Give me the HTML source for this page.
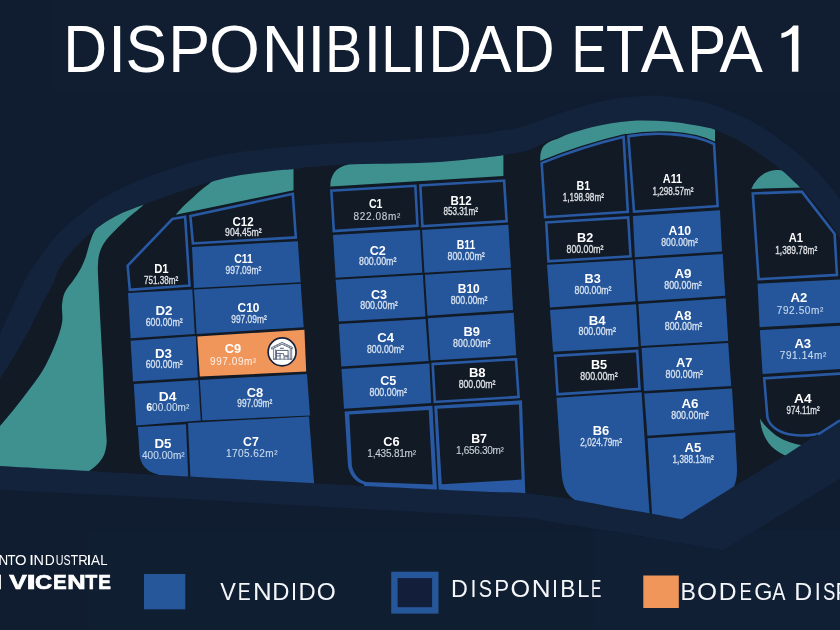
<!DOCTYPE html>
<html><head><meta charset="utf-8"><title>Disponibilidad Etapa 1</title>
<style>
html,body{margin:0;padding:0;background:#101d30;}
body{width:840px;height:630px;overflow:hidden;position:relative;font-family:"Liberation Sans",sans-serif;}
</style></head><body>
<svg width="840" height="630" viewBox="0 0 840 630" style="position:absolute;left:0;top:0;display:block;will-change:transform;filter:blur(0.5px)">
<defs>
<clipPath id="cin"><path d="M-8.0,393.0 C-6.7,390.7 -2.6,383.4 0.0,379.0 C2.6,374.6 4.3,372.5 7.8,366.7 C11.3,360.9 16.8,351.8 21.0,344.4 C25.2,336.9 29.4,329.4 33.3,322.0 C37.2,314.6 41.4,305.8 44.4,300.0 C47.4,294.2 48.6,293.0 51.5,287.0 C54.4,281.0 57.2,271.3 62.0,264.0 C66.8,256.7 73.7,249.3 80.0,243.0 C86.3,236.7 93.3,230.8 100.0,226.0 C106.7,221.2 112.8,217.5 120.0,214.0 C127.2,210.5 132.5,208.9 143.0,205.0 C153.5,201.1 169.2,195.2 183.0,190.7 C196.8,186.2 211.4,181.1 225.7,177.9 C240.0,174.7 257.6,172.8 268.6,171.4 C279.7,170.0 284.9,170.0 292.0,169.3 C299.1,168.6 301.0,167.8 311.4,167.0 C321.8,166.2 340.0,164.9 354.3,164.3 C368.6,163.7 382.7,163.8 397.0,163.4 C411.3,163.0 425.7,162.9 440.0,162.0 C454.3,161.1 472.5,158.9 483.0,157.8 C493.5,156.7 495.5,156.6 503.0,155.3 C510.5,154.0 521.3,152.1 528.0,150.2 C534.7,148.2 538.5,145.5 543.0,143.6 C547.5,141.7 546.7,141.4 555.0,138.6 C563.3,135.8 580.2,129.9 592.7,127.0 C605.2,124.1 617.5,121.9 630.0,121.0 C642.5,120.1 655.4,120.6 668.0,121.6 C680.6,122.6 697.8,125.8 705.6,127.2 C713.4,128.6 710.4,128.0 715.0,129.8 C719.6,131.6 729.1,136.1 733.3,138.0 C737.5,139.9 735.5,138.6 740.0,141.3 C744.5,144.1 753.7,149.7 760.6,154.5 C767.5,159.3 776.1,165.9 781.3,170.0 C786.5,174.1 788.2,176.0 791.6,179.2 C795.0,182.4 796.8,183.8 801.9,189.4 C807.0,195.0 816.6,205.1 822.5,212.6 C828.4,220.1 834.1,229.8 837.0,234.2 C839.9,238.6 837.8,235.5 840.0,238.8 C842.2,242.1 848.3,251.5 850.0,254.0 L860,640 L-8,640 Z"/></clipPath>
</defs>
<rect x="0" y="0" width="840" height="630" fill="#101d30"/>
<rect x="52.4" y="0" width="788" height="90.5" fill="#111e32"/>
<path d="M-12.0,360.0 C-10.0,355.7 -4.0,342.7 0.0,334.0 C4.0,325.3 7.8,317.0 12.0,308.0 C16.2,299.0 20.0,289.0 25.0,280.0 C30.0,271.0 35.8,262.3 42.0,254.0 C48.2,245.7 52.3,239.0 62.0,230.0 C71.7,221.0 87.0,208.3 100.0,200.0 C113.0,191.7 126.2,185.8 140.0,180.0 C153.8,174.2 168.7,169.3 183.0,165.0 C197.3,160.7 211.7,157.0 226.0,154.3 C240.3,151.6 254.4,150.4 268.6,148.8 C282.8,147.2 297.1,145.9 311.4,144.9 C325.7,143.9 340.0,143.3 354.3,142.6 C368.6,141.8 382.7,141.3 397.0,140.4 C411.3,139.5 426.2,138.3 440.0,137.2 C453.8,136.1 470.0,135.1 480.0,134.0 C490.0,132.9 492.8,132.0 500.0,130.7 C507.2,129.4 512.0,129.6 523.0,126.4 C534.0,123.2 551.4,115.8 565.7,111.4 C580.0,107.0 594.3,102.6 608.6,100.0 C622.9,97.4 637.1,95.8 651.4,95.8 C665.7,95.8 683.4,98.6 694.3,100.3 C705.2,102.0 710.2,104.1 716.7,106.2 C723.2,108.3 727.8,110.4 733.3,112.7 C738.8,115.0 744.4,117.3 750.0,120.2 C755.6,123.1 761.2,126.6 766.7,130.2 C772.2,133.8 777.3,137.6 783.0,141.9 C788.7,146.2 795.3,151.3 801.0,156.2 C806.7,161.1 811.7,165.9 817.0,171.5 C822.3,177.1 829.2,185.4 833.0,190.0 C836.8,194.6 837.2,195.3 840.0,199.0 C842.8,202.7 848.3,209.8 850.0,212.0 L860,640 L-12,640 Z" fill="#14233c"/>
<path d="M-8.0,393.0 C-6.7,390.7 -2.6,383.4 0.0,379.0 C2.6,374.6 4.3,372.5 7.8,366.7 C11.3,360.9 16.8,351.8 21.0,344.4 C25.2,336.9 29.4,329.4 33.3,322.0 C37.2,314.6 41.4,305.8 44.4,300.0 C47.4,294.2 48.6,293.0 51.5,287.0 C54.4,281.0 57.2,271.3 62.0,264.0 C66.8,256.7 73.7,249.3 80.0,243.0 C86.3,236.7 93.3,230.8 100.0,226.0 C106.7,221.2 112.8,217.5 120.0,214.0 C127.2,210.5 132.5,208.9 143.0,205.0 C153.5,201.1 169.2,195.2 183.0,190.7 C196.8,186.2 211.4,181.1 225.7,177.9 C240.0,174.7 257.6,172.8 268.6,171.4 C279.7,170.0 284.9,170.0 292.0,169.3 C299.1,168.6 301.0,167.8 311.4,167.0 C321.8,166.2 340.0,164.9 354.3,164.3 C368.6,163.7 382.7,163.8 397.0,163.4 C411.3,163.0 425.7,162.9 440.0,162.0 C454.3,161.1 472.5,158.9 483.0,157.8 C493.5,156.7 495.5,156.6 503.0,155.3 C510.5,154.0 521.3,152.1 528.0,150.2 C534.7,148.2 538.5,145.5 543.0,143.6 C547.5,141.7 546.7,141.4 555.0,138.6 C563.3,135.8 580.2,129.9 592.7,127.0 C605.2,124.1 617.5,121.9 630.0,121.0 C642.5,120.1 655.4,120.6 668.0,121.6 C680.6,122.6 697.8,125.8 705.6,127.2 C713.4,128.6 710.4,128.0 715.0,129.8 C719.6,131.6 729.1,136.1 733.3,138.0 C737.5,139.9 735.5,138.6 740.0,141.3 C744.5,144.1 753.7,149.7 760.6,154.5 C767.5,159.3 776.1,165.9 781.3,170.0 C786.5,174.1 788.2,176.0 791.6,179.2 C795.0,182.4 796.8,183.8 801.9,189.4 C807.0,195.0 816.6,205.1 822.5,212.6 C828.4,220.1 834.1,229.8 837.0,234.2 C839.9,238.6 837.8,235.5 840.0,238.8 C842.2,242.1 848.3,251.5 850.0,254.0 L860,640 L-8,640 Z" fill="#111a25"/>
<g clip-path="url(#cin)" fill="#3f9190">
<path d="M150.0,195.0 C142.7,199.0 115.1,213.2 106.0,219.0 C96.9,224.8 98.2,225.7 95.5,229.5 C92.8,233.3 91.6,237.4 90.0,242.0 C88.4,246.6 87.3,252.5 85.7,257.0 C84.1,261.5 82.5,265.2 80.5,269.0 C78.5,272.8 76.1,276.2 73.5,280.0 C70.9,283.8 66.9,287.8 65.0,292.0 C63.1,296.2 62.5,299.8 62.0,305.0 C61.5,310.2 63.2,316.3 62.0,323.0 C60.8,329.7 58.2,337.2 55.0,345.0 C51.8,352.8 47.2,362.8 43.0,370.0 C38.8,377.2 34.7,382.2 30.0,388.5 C25.3,394.8 20.0,401.8 15.0,408.0 C10.0,414.2 3.8,421.7 0.0,426.0 C-3.8,430.3 -6.7,432.7 -8.0,434.0 L-8,480 L80,480 L80,471.4 L88.5,471.2 C95,467.5 100.8,461.5 103.6,455.7 C105.4,452 106.5,447 106.8,440 C106.6,437.5 106.5,438.3 105.8,425.0 C105.1,411.7 103.7,383.3 102.5,360.0 C101.3,336.7 99.2,301.0 98.5,285.0 C97.8,269.0 97.7,269.8 98.0,264.0 C98.3,258.2 98.8,254.8 100.4,250.5 C102.1,246.2 103.7,242.9 107.9,237.9 C112.1,232.9 119.6,225.8 125.4,220.4 C131.2,215.0 138.9,209.5 143.0,205.3 C147.1,201.1 148.8,196.7 150.0,195.0 Z"/>
<path d="M175.7,214.8 C177.1,213.2 181.4,208.1 184.3,205.2 C187.2,202.3 190.1,200.0 192.9,197.4 C195.8,194.8 198.4,192.3 201.4,189.8 C204.4,187.3 207.2,185.6 211.0,182.3 C214.8,179.0 221.8,172.1 224.0,170.0 L293.5,160 L293.5,190.2 Z"/>
<path d="M330.3,186.6 C330.4,185.4 330.3,181.8 331.1,179.3 C331.9,176.8 333.2,173.8 334.9,171.7 C336.6,169.6 339.0,168.1 341.2,166.9 C343.4,165.7 345.4,165.5 347.9,164.5 C350.4,163.5 354.6,161.6 356.0,161.0 L503.4,145 L503.4,176.1 Z"/>
<path d="M540.2,160.2 C540.3,159.0 540.1,155.2 540.7,152.9 C541.3,150.6 542.0,148.1 543.6,146.2 C545.2,144.3 547.5,142.8 550.2,141.4 C552.9,140.0 555.7,139.7 559.8,137.8 C563.9,135.9 572.5,131.3 575.0,130.0 L600,110 L715,110 L715,150 L540,165 Z"/>
<path d="M751.4,188.9 C751.9,188.0 753.0,185.2 754.3,183.3 C755.6,181.4 757.0,179.2 759.0,177.4 C761.0,175.6 763.6,173.8 766.2,172.6 C768.8,171.4 771.5,170.5 774.5,170.2 C777.5,169.9 781.2,170.1 784.0,171.0 C786.8,171.9 789.0,173.8 791.2,175.7 C793.4,177.5 795.4,180.1 797.1,182.1 C798.8,184.1 800.5,186.7 801.2,187.6 Z"/>
<path d="M760,418.5 C761,430 765,440 772,447 C780,454 790,458 800,460 L815,445 C800,447 786,442 776,435.5 C768,429 763,424 760,418.5 Z"/>
</g>
<g fill="#25569b">
<path d="M128.0,293.0 L192.3,289.6 L194.8,334.0 L130.6,338.2 Z"/>
<path d="M130.6,340.7 L195.8,336.0 L197.8,377.4 L133.0,381.6 Z"/>
<path d="M133.8,384.0 L198.3,380.0 L200.8,420.5 L136.3,425.5 Z"/>
<path d="M192.0,247.0 L297.8,241.2 L300.7,282.2 L193.9,288.0 Z"/>
<path d="M194.0,289.6 L300.7,283.8 L303.7,327.2 L196.6,334.0 Z"/>
<path d="M199.8,380.0 L307.0,374.0 L310.0,415.5 L202.3,420.5 Z"/>
<path d="M188.0,423.0 L309.0,416.5 L315.0,495.0 L191.2,495.0 Z"/>
<path d="M333.0,235.1 L420.0,230.1 L422.4,272.7 L335.6,277.7 Z"/>
<path d="M422.0,230.0 L508.3,224.7 L510.9,267.7 L424.4,272.7 Z"/>
<path d="M335.6,279.7 L422.9,274.7 L425.4,316.4 L338.8,321.5 Z"/>
<path d="M424.9,274.8 L510.9,269.4 L513.0,310.0 L427.4,315.7 Z"/>
<path d="M338.8,324.0 L425.6,319.0 L428.6,360.9 L341.3,366.6 Z"/>
<path d="M427.8,318.2 L513.7,312.7 L516.2,355.3 L430.6,360.4 Z"/>
<path d="M341.5,369.0 L429.4,363.4 L431.2,403.1 L344.0,408.8 Z"/>
<path d="M632.9,216.0 L720.0,210.3 L722.0,251.4 L634.9,257.2 Z"/>
<path d="M547.0,264.7 L632.9,259.7 L635.5,301.6 L550.0,307.4 Z"/>
<path d="M635.1,259.6 L722.7,254.0 L725.2,295.8 L637.9,301.6 Z"/>
<path d="M550.0,309.9 L636.1,304.2 L638.6,346.8 L553.0,351.8 Z"/>
<path d="M638.4,304.0 L725.7,298.3 L728.2,341.0 L640.9,346.0 Z"/>
<path d="M641.6,348.0 L728.2,343.0 L731.2,386.0 L644.0,391.0 Z"/>
<path d="M644.2,393.5 L732.0,388.5 L734.5,430.0 L647.4,435.8 Z"/>
<path d="M757.6,283.8 L846.0,279.2 L846.0,322.4 L759.6,327.2 Z"/>
<path d="M759.8,330.2 L846.0,325.3 L846.0,368.7 L762.6,374.1 Z"/>
<path d="M137.8,427.0 L186.0,424.3 L188.9,495 L160,495 L158,474.2 C149,472.6 141.6,467 139.6,456 Z"/>
<path d="M556.5,397.7 L641.6,392.2 L650.6,530 L590,530 L577,501 C569,497 564.5,491 562.5,480 C562,477 561.7,475 561.5,472 Z"/>
<path d="M647.5,438.3 L735.2,432.5 L736.9,466 C737.3,476 736,483 733,488 C731,491.5 728,496 722,502 L700,530 L653,530 Z"/>
</g>
<path d="M197.3,336.5 L304.4,329.7 L306.2,371.6 L199.8,376.6 Z" fill="#f0965a"/>
<defs>
<clipPath id="kD1"><path d="M171.8,217.7 L186.3,215.2 L190.9,286.8 L128.6,291.2 L126.3,265.3 Z"/></clipPath>
<clipPath id="kC12"><path d="M189.0,215.0 L294.0,192.3 L297.2,238.7 L191.7,244.8 Z"/></clipPath>
<clipPath id="kC1"><path d="M330.0,189.4 L416.6,184.4 L418.8,226.9 L332.6,232.4 Z"/></clipPath>
<clipPath id="kB12"><path d="M419.0,184.2 L505.3,179.2 L508.0,222.4 L421.2,227.5 Z"/></clipPath>
<clipPath id="kB8"><path d="M431.3,362.8 L517.2,357.8 L520.0,398.2 L433.6,403.3 Z"/></clipPath>
<clipPath id="kB1"><path d="M540.3,162.2 Q582.5,145.2 624.8,135.3 L629.2,213.1 L543.9,218.5 Z"/></clipPath>
<clipPath id="kA11"><path d="M627,135.2 C650,131.2 690,130.2 715.3,143.2 L719,207.3 L632.8,213.1 Z"/></clipPath>
<clipPath id="kB2"><path d="M544.9,221.2 L629.4,216.1 L631.9,257.6 L547.2,262.7 Z"/></clipPath>
<clipPath id="kB5"><path d="M553.8,354.6 L638.4,349.6 L640.9,390.2 L556.3,395.7 Z"/></clipPath>
<clipPath id="kA1"><path d="M751.4,192.2 L802.5,190.3 L835.9,233.5 L838.3,276.2 L757.4,280.6 Z"/></clipPath>
<clipPath id="kA4"><path d="M762.8,377.1 L846,371.9 L846,425 C830,436 800,440 783,434 C770,429 766,421 765.8,414 Z"/></clipPath>
</defs>
<path d="M171.8,217.7 L186.3,215.2 L190.9,286.8 L128.6,291.2 L126.3,265.3 Z" fill="none" stroke="#111a25" stroke-width="2.6"/>
<path d="M189.0,215.0 L294.0,192.3 L297.2,238.7 L191.7,244.8 Z" fill="none" stroke="#111a25" stroke-width="2.6"/>
<path d="M330.0,189.4 L416.6,184.4 L418.8,226.9 L332.6,232.4 Z" fill="none" stroke="#111a25" stroke-width="2.6"/>
<path d="M419.0,184.2 L505.3,179.2 L508.0,222.4 L421.2,227.5 Z" fill="none" stroke="#111a25" stroke-width="2.6"/>
<path d="M431.3,362.8 L517.2,357.8 L520.0,398.2 L433.6,403.3 Z" fill="none" stroke="#111a25" stroke-width="2.6"/>
<path d="M540.3,162.2 Q582.5,145.2 624.8,135.3 L629.2,213.1 L543.9,218.5 Z" fill="none" stroke="#111a25" stroke-width="2.6"/>
<path d="M627,135.2 C650,131.2 690,130.2 715.3,143.2 L719,207.3 L632.8,213.1 Z" fill="none" stroke="#111a25" stroke-width="2.6"/>
<path d="M544.9,221.2 L629.4,216.1 L631.9,257.6 L547.2,262.7 Z" fill="none" stroke="#111a25" stroke-width="2.6"/>
<path d="M553.8,354.6 L638.4,349.6 L640.9,390.2 L556.3,395.7 Z" fill="none" stroke="#111a25" stroke-width="2.6"/>
<path d="M751.4,192.2 L802.5,190.3 L835.9,233.5 L838.3,276.2 L757.4,280.6 Z" fill="none" stroke="#111a25" stroke-width="2.6"/>
<path d="M762.8,377.1 L846,371.9 L846,425 C830,436 800,440 783,434 C770,429 766,421 765.8,414 Z" fill="none" stroke="#111a25" stroke-width="2.6"/>
<path d="M171.8,217.7 L186.3,215.2 L190.9,286.8 L128.6,291.2 L126.3,265.3 Z" fill="#111a25" stroke="#2859a2" stroke-width="5.2" clip-path="url(#kD1)"/>
<path d="M189.0,215.0 L294.0,192.3 L297.2,238.7 L191.7,244.8 Z" fill="#111a25" stroke="#2859a2" stroke-width="5.2" clip-path="url(#kC12)"/>
<path d="M330.0,189.4 L416.6,184.4 L418.8,226.9 L332.6,232.4 Z" fill="#111a25" stroke="#2859a2" stroke-width="5.2" clip-path="url(#kC1)"/>
<path d="M419.0,184.2 L505.3,179.2 L508.0,222.4 L421.2,227.5 Z" fill="#111a25" stroke="#2859a2" stroke-width="5.2" clip-path="url(#kB12)"/>
<path d="M431.3,362.8 L517.2,357.8 L520.0,398.2 L433.6,403.3 Z" fill="#111a25" stroke="#2859a2" stroke-width="5.2" clip-path="url(#kB8)"/>
<path d="M540.3,162.2 Q582.5,145.2 624.8,135.3 L629.2,213.1 L543.9,218.5 Z" fill="#111a25" stroke="#2859a2" stroke-width="5.2" clip-path="url(#kB1)"/>
<path d="M627,135.2 C650,131.2 690,130.2 715.3,143.2 L719,207.3 L632.8,213.1 Z" fill="#111a25" stroke="#2859a2" stroke-width="5.2" clip-path="url(#kA11)"/>
<path d="M544.9,221.2 L629.4,216.1 L631.9,257.6 L547.2,262.7 Z" fill="#111a25" stroke="#2859a2" stroke-width="5.2" clip-path="url(#kB2)"/>
<path d="M553.8,354.6 L638.4,349.6 L640.9,390.2 L556.3,395.7 Z" fill="#111a25" stroke="#2859a2" stroke-width="5.2" clip-path="url(#kB5)"/>
<path d="M751.4,192.2 L802.5,190.3 L835.9,233.5 L838.3,276.2 L757.4,280.6 Z" fill="#111a25" stroke="#2859a2" stroke-width="5.2" clip-path="url(#kA1)"/>
<path d="M762.8,377.1 L846,371.9 L846,425 C830,436 800,440 783,434 C770,429 766,421 765.8,414 Z" fill="#111a25" stroke="#2859a2" stroke-width="5.2" clip-path="url(#kA4)"/>
<path d="M344.6,411.4 L432.4,405.7 L437.4,496 L364,496 L364,484.4 C357,482.5 352.5,478 350.2,473 C348.6,469.5 348,467 347.9,464.3 Z" fill="#2859a2"/>
<path d="M434.2,405.8 L522,400.3 L525.4,496 L438.9,496 Z" fill="#2859a2"/>
<path d="M349.3,414.4 L428.7,410 L432.7,484.6 L366,481.9 C360,480.5 356,476 354,472 C352.7,469.3 352,467 351.8,464 Z" fill="#111a25"/>
<path d="M437.4,408.8 L518.9,404.4 L521.6,479.6 L441.8,484.2 Z" fill="#111a25"/>
<path d="M-10.0,465.4 C-8.3,465.5 -28.3,464.4 0.0,466.0 C28.3,467.6 100.0,471.7 160.0,475.0 C220.0,478.3 306.7,483.0 360.0,485.7 C413.3,488.4 453.3,490.2 480.0,491.4 C506.7,492.6 510.0,492.1 520.0,492.7 C530.0,493.3 530.3,493.5 540.0,494.8 C549.7,496.1 565.3,498.4 578.0,500.5 C590.7,502.6 603.9,505.6 616.0,507.7 C628.1,509.8 639.6,511.5 650.5,513.4 C661.4,515.3 676.3,518.2 681.5,519.2 L733.0,487.0 L786.0,455.0 L840.0,419.5 L860.0,407.0 L860,640 L-10,640 Z" fill="#14233c"/>
<path d="M-10.0,489.5 C-8.3,489.6 -28.3,488.6 0.0,490.0 C28.3,491.4 110.0,495.0 160.0,497.6 C210.0,500.2 251.3,502.7 300.0,505.4 C348.7,508.1 419.1,512.0 452.4,513.8 C485.7,515.6 487.3,515.7 500.0,516.4 C512.7,517.1 519.1,517.0 528.6,518.1 C538.1,519.2 547.6,521.2 557.1,522.7 C566.6,524.2 575.2,525.6 585.7,527.3 C596.2,529.0 604.8,530.4 620.0,532.9 C635.2,535.4 659.8,539.5 677.0,542.5 C694.2,545.5 715.3,549.2 723.0,550.6 L740.0,540.0 L840.0,478.6 L860.0,466.0 L860,640 L-10,640 Z" fill="#101d30"/>
<path d="M818,434.6 L840,420.2" stroke="#2859a2" stroke-width="2.4" fill="none"/>
<g transform="translate(282.1,351.9)">
<circle r="13.95" fill="#ffffff" stroke="#18223b" stroke-width="1.7"/>
<g fill="none" stroke="#4b5670" stroke-width="0.75" stroke-linejoin="round" stroke-linecap="round">
<path d="M-10.5,-4.3 L0,-9.5 L10.5,-4.5 L10.0,-3.0 L0,-7.7 L-10.0,-2.8 Z" fill="#d5d8e0"/>
<path d="M-7.6,-5.7 L-7.2,-4.2 M-5,-7 L-4.6,-5.5 M-2.4,-8.3 L-2,-6.8 M2.4,-8.3 L2,-6.8 M5,-7 L4.6,-5.5 M7.6,-5.8 L7.2,-4.3" stroke-width="0.5"/>
<path d="M-8.5,-3.3 L-8.5,7.3 L-6.6,7.3 L-6.6,-2.2"/>
<path d="M8.1,-3.3 L8.1,7.3 L9.6,7.3 L9.6,-3.6" />
<path d="M-8.5,7.3 L9.6,7.3"/>
<path d="M-5.7,7.3 L-5.7,-1.5 L6.0,-1.5 L6.0,7.3" stroke-width="0.95"/>
<path d="M-1.7,-3.7 L1.3,-3.7" stroke-width="1.1"/>
<path d="M-5.2,1.5 L-2.0,1.5 L-2.0,7.1 M-5.2,4.0 L-2.0,4.0 M-2.0,1.7 L1.5,1.7 L1.5,3.9 L5.9,3.9 M2.0,7.1 L2.0,4.9 L5.6,4.9" stroke-width="0.85"/>
</g></g>
<g font-family="'Liberation Sans', sans-serif" text-anchor="middle">
<text x="161.4" y="272.7" font-size="12.6" font-weight="700" fill="#ffffff" textLength="14.5" lengthAdjust="spacingAndGlyphs">D1</text>
<text x="161.1" y="283.8" font-size="10.8" fill="#dcdfe3" stroke="#dcdfe3" stroke-width="0.38" textLength="34.1" lengthAdjust="spacingAndGlyphs">751.38m²</text>
<text x="243.0" y="225.5" font-size="12.6" font-weight="700" fill="#ffffff" textLength="21.1" lengthAdjust="spacingAndGlyphs">C12</text>
<text x="243.4" y="236.2" font-size="10.8" fill="#dcdfe3" stroke="#dcdfe3" stroke-width="0.38" textLength="36.6" lengthAdjust="spacingAndGlyphs">904.45m²</text>
<text x="243.5" y="262.6" font-size="12.6" font-weight="700" fill="#ffffff" textLength="18.6" lengthAdjust="spacingAndGlyphs">C11</text>
<text x="243.4" y="273.8" font-size="10.8" fill="#d3dfee" stroke="#d3dfee" stroke-width="0.38" textLength="35.7" lengthAdjust="spacingAndGlyphs">997.09m²</text>
<text x="164.0" y="315.0" font-size="12.6" font-weight="700" fill="#ffffff" textLength="17.0" lengthAdjust="spacingAndGlyphs">D2</text>
<text x="164.2" y="326.0" font-size="10.8" fill="#d3dfee" stroke="#d3dfee" stroke-width="0.38" textLength="37.0" lengthAdjust="spacingAndGlyphs">600.00m²</text>
<text x="163.4" y="357.6" font-size="12.6" font-weight="700" fill="#ffffff" textLength="17.0" lengthAdjust="spacingAndGlyphs">D3</text>
<text x="164.2" y="368.2" font-size="10.8" fill="#d3dfee" stroke="#d3dfee" stroke-width="0.38" textLength="37.0" lengthAdjust="spacingAndGlyphs">600.00m²</text>
<text x="167.7" y="400.8" font-size="12.6" font-weight="700" fill="#ffffff" textLength="17.7" lengthAdjust="spacingAndGlyphs">D4</text>
<text x="167.9" y="410.9" font-size="10.0" fill="#c6d9ee" stroke="#c6d9ee" stroke-width="0.12" textLength="42.9" lengthAdjust="spacing"><tspan font-weight="700" fill="#ffffff" stroke="#ffffff">6</tspan>00.00m²</text>
<text x="248.5" y="312.4" font-size="12.6" font-weight="700" fill="#ffffff" textLength="21.9" lengthAdjust="spacingAndGlyphs">C10</text>
<text x="249.0" y="323.0" font-size="10.8" fill="#d3dfee" stroke="#d3dfee" stroke-width="0.38" textLength="35.4" lengthAdjust="spacingAndGlyphs">997.09m²</text>
<text x="232.9" y="353.1" font-size="12.6" font-weight="700" fill="#ffffff" textLength="16.4" lengthAdjust="spacingAndGlyphs">C9</text>
<text x="233.2" y="365.2" font-size="10.0" fill="#fdeee3" stroke="#fdeee3" stroke-width="0.05" textLength="46.4" lengthAdjust="spacing">997.09m²</text>
<text x="255.0" y="396.5" font-size="12.6" font-weight="700" fill="#ffffff" textLength="16.5" lengthAdjust="spacingAndGlyphs">C8</text>
<text x="254.8" y="407.1" font-size="10.8" fill="#d3dfee" stroke="#d3dfee" stroke-width="0.38" textLength="34.9" lengthAdjust="spacingAndGlyphs">997.09m²</text>
<text x="162.9" y="448.4" font-size="12.6" font-weight="700" fill="#ffffff" textLength="17.0" lengthAdjust="spacingAndGlyphs">D5</text>
<text x="163.3" y="458.5" font-size="10.0" fill="#c6d9ee" stroke="#c6d9ee" stroke-width="0.12" textLength="42.8" lengthAdjust="spacing">400.00m²</text>
<text x="250.9" y="445.5" font-size="12.6" font-weight="700" fill="#ffffff" textLength="15.7" lengthAdjust="spacingAndGlyphs">C7</text>
<text x="251.7" y="457.0" font-size="10.0" fill="#c6d9ee" stroke="#c6d9ee" stroke-width="0.12" textLength="51.6" lengthAdjust="spacing">1705.62m²</text>
<text x="375.7" y="208.0" font-size="12.6" font-weight="700" fill="#ffffff" textLength="13.6" lengthAdjust="spacingAndGlyphs">C1</text>
<text x="376.9" y="219.7" font-size="10.0" fill="#c6cfd5" stroke="#c6cfd5" stroke-width="0.12" textLength="46.7" lengthAdjust="spacing">822.08m²</text>
<text x="461.0" y="204.5" font-size="12.6" font-weight="700" fill="#ffffff" textLength="21.2" lengthAdjust="spacingAndGlyphs">B12</text>
<text x="460.7" y="215.0" font-size="10.8" fill="#dcdfe3" stroke="#dcdfe3" stroke-width="0.38" textLength="34.4" lengthAdjust="spacingAndGlyphs">853.31m²</text>
<text x="377.7" y="254.5" font-size="12.6" font-weight="700" fill="#ffffff" textLength="16.1" lengthAdjust="spacingAndGlyphs">C2</text>
<text x="377.7" y="265.0" font-size="10.8" fill="#d3dfee" stroke="#d3dfee" stroke-width="0.38" textLength="37.4" lengthAdjust="spacingAndGlyphs">800.00m²</text>
<text x="466.0" y="249.4" font-size="12.6" font-weight="700" fill="#ffffff" textLength="18.7" lengthAdjust="spacingAndGlyphs">B11</text>
<text x="466.1" y="260.0" font-size="10.8" fill="#d3dfee" stroke="#d3dfee" stroke-width="0.38" textLength="37.2" lengthAdjust="spacingAndGlyphs">800.00m²</text>
<text x="379.0" y="298.7" font-size="12.6" font-weight="700" fill="#ffffff" textLength="16.1" lengthAdjust="spacingAndGlyphs">C3</text>
<text x="379.0" y="309.3" font-size="10.8" fill="#d3dfee" stroke="#d3dfee" stroke-width="0.38" textLength="37.5" lengthAdjust="spacingAndGlyphs">800.00m²</text>
<text x="385.7" y="342.1" font-size="12.6" font-weight="700" fill="#ffffff" textLength="16.8" lengthAdjust="spacingAndGlyphs">C4</text>
<text x="385.4" y="352.9" font-size="10.8" fill="#d3dfee" stroke="#d3dfee" stroke-width="0.38" textLength="36.9" lengthAdjust="spacingAndGlyphs">800.00m²</text>
<text x="388.2" y="384.7" font-size="12.6" font-weight="700" fill="#ffffff" textLength="16.1" lengthAdjust="spacingAndGlyphs">C5</text>
<text x="388.2" y="395.6" font-size="10.8" fill="#d3dfee" stroke="#d3dfee" stroke-width="0.38" textLength="37.4" lengthAdjust="spacingAndGlyphs">800.00m²</text>
<text x="468.8" y="293.2" font-size="12.6" font-weight="700" fill="#ffffff" textLength="22.0" lengthAdjust="spacingAndGlyphs">B10</text>
<text x="469.1" y="304.0" font-size="10.8" fill="#d3dfee" stroke="#d3dfee" stroke-width="0.38" textLength="36.9" lengthAdjust="spacingAndGlyphs">800.00m²</text>
<text x="471.8" y="336.3" font-size="12.6" font-weight="700" fill="#ffffff" textLength="16.5" lengthAdjust="spacingAndGlyphs">B9</text>
<text x="471.8" y="347.4" font-size="10.8" fill="#d3dfee" stroke="#d3dfee" stroke-width="0.38" textLength="37.4" lengthAdjust="spacingAndGlyphs">800.00m²</text>
<text x="477.3" y="377.2" font-size="12.6" font-weight="700" fill="#ffffff" textLength="16.7" lengthAdjust="spacingAndGlyphs">B8</text>
<text x="477.1" y="388.1" font-size="10.8" fill="#dcdfe3" stroke="#dcdfe3" stroke-width="0.38" textLength="36.9" lengthAdjust="spacingAndGlyphs">800.00m²</text>
<text x="391.4" y="445.5" font-size="12.6" font-weight="700" fill="#ffffff" textLength="16.4" lengthAdjust="spacingAndGlyphs">C6</text>
<text x="391.7" y="456.5" font-size="10.0" fill="#c6cfd5" stroke="#c6cfd5" stroke-width="0.12" textLength="48.8" lengthAdjust="spacing">1,435.81m²</text>
<text x="479.1" y="442.7" font-size="12.6" font-weight="700" fill="#ffffff" textLength="15.8" lengthAdjust="spacingAndGlyphs">B7</text>
<text x="479.9" y="453.6" font-size="10.0" fill="#c6cfd5" stroke="#c6cfd5" stroke-width="0.12" textLength="47.9" lengthAdjust="spacing">1,656.30m²</text>
<text x="583.4" y="190.1" font-size="12.6" font-weight="700" fill="#ffffff" textLength="13.7" lengthAdjust="spacingAndGlyphs">B1</text>
<text x="583.3" y="201.2" font-size="10.8" fill="#dcdfe3" stroke="#dcdfe3" stroke-width="0.38" textLength="41.2" lengthAdjust="spacingAndGlyphs">1,198.98m²</text>
<text x="672.5" y="183.3" font-size="12.6" font-weight="700" fill="#ffffff" textLength="19.3" lengthAdjust="spacingAndGlyphs">A11</text>
<text x="673.0" y="195.0" font-size="10.8" fill="#dcdfe3" stroke="#dcdfe3" stroke-width="0.38" textLength="41.0" lengthAdjust="spacingAndGlyphs">1,298.57m²</text>
<text x="585.2" y="241.9" font-size="12.6" font-weight="700" fill="#ffffff" textLength="16.2" lengthAdjust="spacingAndGlyphs">B2</text>
<text x="585.0" y="252.8" font-size="10.8" fill="#dcdfe3" stroke="#dcdfe3" stroke-width="0.38" textLength="36.9" lengthAdjust="spacingAndGlyphs">800.00m²</text>
<text x="592.7" y="283.1" font-size="12.6" font-weight="700" fill="#ffffff" textLength="16.2" lengthAdjust="spacingAndGlyphs">B3</text>
<text x="593.0" y="294.2" font-size="10.8" fill="#d3dfee" stroke="#d3dfee" stroke-width="0.38" textLength="36.9" lengthAdjust="spacingAndGlyphs">800.00m²</text>
<text x="597.2" y="324.5" font-size="12.6" font-weight="700" fill="#ffffff" textLength="16.9" lengthAdjust="spacingAndGlyphs">B4</text>
<text x="597.2" y="335.1" font-size="10.8" fill="#d3dfee" stroke="#d3dfee" stroke-width="0.38" textLength="37.4" lengthAdjust="spacingAndGlyphs">800.00m²</text>
<text x="679.8" y="234.9" font-size="12.6" font-weight="700" fill="#ffffff" textLength="22.6" lengthAdjust="spacingAndGlyphs">A10</text>
<text x="679.6" y="245.6" font-size="10.8" fill="#d3dfee" stroke="#d3dfee" stroke-width="0.38" textLength="36.6" lengthAdjust="spacingAndGlyphs">800.00m²</text>
<text x="683.0" y="278.1" font-size="12.6" font-weight="700" fill="#ffffff" textLength="17.1" lengthAdjust="spacingAndGlyphs">A9</text>
<text x="683.0" y="288.8" font-size="10.8" fill="#d3dfee" stroke="#d3dfee" stroke-width="0.38" textLength="37.5" lengthAdjust="spacingAndGlyphs">800.00m²</text>
<text x="683.0" y="319.5" font-size="12.6" font-weight="700" fill="#ffffff" textLength="17.3" lengthAdjust="spacingAndGlyphs">A8</text>
<text x="683.5" y="330.1" font-size="10.8" fill="#d3dfee" stroke="#d3dfee" stroke-width="0.38" textLength="37.5" lengthAdjust="spacingAndGlyphs">800.00m²</text>
<text x="599.0" y="369.2" font-size="12.6" font-weight="700" fill="#ffffff" textLength="16.2" lengthAdjust="spacingAndGlyphs">B5</text>
<text x="599.0" y="379.8" font-size="10.8" fill="#dcdfe3" stroke="#dcdfe3" stroke-width="0.38" textLength="37.4" lengthAdjust="spacingAndGlyphs">800.00m²</text>
<text x="601.0" y="434.7" font-size="12.6" font-weight="700" fill="#ffffff" textLength="16.5" lengthAdjust="spacingAndGlyphs">B6</text>
<text x="601.1" y="446.3" font-size="10.8" fill="#d3dfee" stroke="#d3dfee" stroke-width="0.38" textLength="41.6" lengthAdjust="spacingAndGlyphs">2,024.79m²</text>
<text x="684.3" y="366.9" font-size="12.6" font-weight="700" fill="#ffffff" textLength="16.4" lengthAdjust="spacingAndGlyphs">A7</text>
<text x="684.3" y="377.8" font-size="10.8" fill="#d3dfee" stroke="#d3dfee" stroke-width="0.38" textLength="37.4" lengthAdjust="spacingAndGlyphs">800.00m²</text>
<text x="690.0" y="408.1" font-size="12.6" font-weight="700" fill="#ffffff" textLength="17.1" lengthAdjust="spacingAndGlyphs">A6</text>
<text x="690.0" y="419.2" font-size="10.8" fill="#d3dfee" stroke="#d3dfee" stroke-width="0.38" textLength="37.5" lengthAdjust="spacingAndGlyphs">800.00m²</text>
<text x="693.0" y="451.5" font-size="12.6" font-weight="700" fill="#ffffff" textLength="16.8" lengthAdjust="spacingAndGlyphs">A5</text>
<text x="693.2" y="462.6" font-size="10.8" fill="#d3dfee" stroke="#d3dfee" stroke-width="0.38" textLength="41.2" lengthAdjust="spacingAndGlyphs">1,388.13m²</text>
<text x="795.8" y="242.2" font-size="12.6" font-weight="700" fill="#ffffff" textLength="14.3" lengthAdjust="spacingAndGlyphs">A1</text>
<text x="796.2" y="253.8" font-size="10.8" fill="#dcdfe3" stroke="#dcdfe3" stroke-width="0.38" textLength="41.9" lengthAdjust="spacingAndGlyphs">1,389.78m²</text>
<text x="799.0" y="302.4" font-size="12.6" font-weight="700" fill="#ffffff" textLength="16.8" lengthAdjust="spacingAndGlyphs">A2</text>
<text x="800.0" y="313.8" font-size="10.0" fill="#c6d9ee" stroke="#c6d9ee" stroke-width="0.12" textLength="46.5" lengthAdjust="spacing">792.50m²</text>
<text x="802.8" y="347.6" font-size="12.6" font-weight="700" fill="#ffffff" textLength="16.8" lengthAdjust="spacingAndGlyphs">A3</text>
<text x="803.0" y="359.0" font-size="10.0" fill="#c6d9ee" stroke="#c6d9ee" stroke-width="0.12" textLength="46.5" lengthAdjust="spacing">791.14m²</text>
<text x="802.8" y="403.3" font-size="12.6" font-weight="700" fill="#ffffff" textLength="17.5" lengthAdjust="spacingAndGlyphs">A4</text>
<text x="803.1" y="413.9" font-size="10.8" fill="#dcdfe3" stroke="#dcdfe3" stroke-width="0.38" textLength="33.1" lengthAdjust="spacingAndGlyphs">974.11m²</text>
</g>
<g font-family="'Liberation Sans', sans-serif" font-size="67.3" fill="#ffffff">
<text transform="translate(63.31,71.80) scale(0.9031,1)">D</text>
<text transform="translate(107.96,71.80) scale(0.9719,1)">I</text>
<text transform="translate(125.38,71.80) scale(0.9240,1)">S</text>
<text transform="translate(168.15,71.80) scale(0.9325,1)">P</text>
<text transform="translate(208.90,71.80) scale(0.9730,1)">O</text>
<text transform="translate(261.71,71.80) scale(0.9576,1)">N</text>
<text transform="translate(307.16,71.80) scale(0.9719,1)">I</text>
<text transform="translate(324.92,71.80) scale(0.8292,1)">B</text>
<text transform="translate(363.36,71.80) scale(0.9719,1)">I</text>
<text transform="translate(381.24,71.80) scale(0.8256,1)">L</text>
<text transform="translate(409.66,71.80) scale(0.9719,1)">I</text>
<text transform="translate(428.33,71.80) scale(0.9006,1)">D</text>
<text transform="translate(469.58,71.80) scale(0.9389,1)">A</text>
<text transform="translate(512.19,71.80) scale(0.8705,1)">D</text>
<text transform="translate(571.52,71.80) scale(0.7759,1)">E</text>
<text transform="translate(605.79,71.80) scale(0.9355,1)">T</text>
<text transform="translate(640.87,71.80) scale(0.9636,1)">A</text>
<text transform="translate(687.22,71.80) scale(0.8655,1)">P</text>
<text transform="translate(719.57,71.80) scale(0.9658,1)">A</text>
</g>
<path d="M798.4,71.8 L798.4,25.5 L793.3,25.5 C790.3,29.6 786,32.2 781.4,33.3 L781.4,38 C785.6,37.2 789,35.6 791.9,33.6 L791.9,71.8 Z" fill="#ffffff"/>
<clipPath id="cbg"><path d="M-10.0,489.5 C-8.3,489.6 -28.3,488.6 0.0,490.0 C28.3,491.4 110.0,495.0 160.0,497.6 C210.0,500.2 251.3,502.7 300.0,505.4 C348.7,508.1 419.1,512.0 452.4,513.8 C485.7,515.6 487.3,515.7 500.0,516.4 C512.7,517.1 519.1,517.0 528.6,518.1 C538.1,519.2 547.6,521.2 557.1,522.7 C566.6,524.2 575.2,525.6 585.7,527.3 C596.2,529.0 604.8,530.4 620.0,532.9 C635.2,535.4 659.8,539.5 677.0,542.5 C694.2,545.5 715.3,549.2 723.0,550.6 L740.0,540.0 L840.0,478.6 L860.0,466.0 L860,640 L-10,640 Z"/></clipPath>
<rect x="87" y="530.5" width="760" height="110" fill="#101e32" clip-path="url(#cbg)"/>
<rect x="593.6" y="530.5" width="260" height="110" fill="#111f34" clip-path="url(#cbg)"/>
<rect x="144" y="574" width="41.3" height="35.3" fill="#27579b"/>
<rect x="394.4" y="574.9" width="40.9" height="35.5" fill="#131f3a" stroke="#27579b" stroke-width="6.4"/>
<rect x="643.3" y="575.5" width="35.5" height="32.5" fill="#f0965a"/>
<g font-family="'Liberation Sans', sans-serif" fill="#f4f6fa">
<g font-size="24.4">
<text transform="translate(220.35,600.00) scale(0.9589,1)" >V</text>
<text transform="translate(237.76,600.00) scale(0.7940,1)" >E</text>
<text transform="translate(253.02,600.00) scale(1.0639,1)" >N</text>
<text transform="translate(272.20,600.00) scale(0.9757,1)" >D</text>
<text transform="translate(291.12,600.00) scale(0.8789,1)" >I</text>
<text transform="translate(298.50,600.00) scale(0.9757,1)" >D</text>
<text transform="translate(316.79,600.00) scale(1.0026,1)" >O</text>
</g>
<g font-size="24.2">
<text transform="translate(450.94,597.40) scale(0.9628,1)" >D</text>
<text transform="translate(470.52,597.40) scale(0.8862,1)" >I</text>
<text transform="translate(478.64,597.40) scale(0.8255,1)" >S</text>
<text transform="translate(494.22,597.40) scale(0.9239,1)" >P</text>
<text transform="translate(510.56,597.40) scale(1.0412,1)" >O</text>
<text transform="translate(531.81,597.40) scale(1.0801,1)" >N</text>
<text transform="translate(552.02,597.40) scale(0.8862,1)" >I</text>
<text transform="translate(560.19,597.40) scale(0.9394,1)" >B</text>
<text transform="translate(577.35,597.40) scale(0.9091,1)" >L</text>
<text transform="translate(590.98,597.40) scale(0.6404,1)" >E</text>
</g>
<g font-size="24.3">
<text transform="translate(680.55,599.70) scale(0.9510,1)" >B</text>
<text transform="translate(696.93,599.70) scale(1.0610,1)" >O</text>
<text transform="translate(718.73,599.70) scale(1.0144,1)" >D</text>
<text transform="translate(739.42,599.70) scale(0.7669,1)" >E</text>
<text transform="translate(754.27,599.70) scale(0.9645,1)" >G</text>
<text transform="translate(772.31,599.70) scale(0.8130,1)" >A</text>
<text transform="translate(794.31,599.70) scale(1.0214,1)" >D</text>
<text transform="translate(814.82,599.70) scale(0.8825,1)" >I</text>
<text transform="translate(823.01,599.70) scale(0.7649,1)" >S</text>
<text transform="translate(835.45,599.70) scale(0.9046,1)" >P</text>
</g>
</g>
<g font-family="'Liberation Sans', sans-serif" fill="#ffffff" font-size="14.7">
<text transform="translate(-1.40,565.30) scale(0.9134,1)" >N</text>
<text transform="translate(7.41,565.30) scale(0.8903,1)" >T</text>
<text transform="translate(15.00,565.30) scale(1.0065,1)" >O</text>
<text transform="translate(28.92,565.30) scale(1.2400,1)" >I</text>
<text transform="translate(33.61,565.30) scale(0.9864,1)" >N</text>
<text transform="translate(44.66,565.30) scale(0.9418,1)" >D</text>
<text transform="translate(55.67,565.30) scale(0.7307,1)" >U</text>
<text transform="translate(63.62,565.30) scale(0.7208,1)" >S</text>
<text transform="translate(70.83,565.30) scale(0.8181,1)" >T</text>
<text transform="translate(78.32,565.30) scale(0.8937,1)" >R</text>
<text transform="translate(86.32,565.30) scale(1.3130,1)" >I</text>
<text transform="translate(90.97,565.30) scale(0.9233,1)" >A</text>
<text transform="translate(100.32,565.30) scale(0.8949,1)" >L</text>
</g>
<g font-family="'Liberation Sans', sans-serif" fill="#ffffff" stroke="#ffffff" stroke-width="0.7" font-weight="700" font-size="21.1">
<text transform="translate(9.17,589.20) scale(1.2477,1)" >V</text>
<text transform="translate(26.42,589.20) scale(1.5792,1)" >I</text>
<text transform="translate(34.98,589.20) scale(1.1236,1)" >C</text>
<text transform="translate(53.08,589.20) scale(0.9715,1)" >E</text>
<text transform="translate(67.24,589.20) scale(1.2092,1)" >N</text>
<text transform="translate(85.53,589.20) scale(0.9094,1)" >T</text>
<text transform="translate(98.29,589.20) scale(0.8954,1)" >E</text>
<text transform="translate(-17.98,589.20) scale(1.3301,1)" >N</text>
</g>
</svg>
</body></html>
